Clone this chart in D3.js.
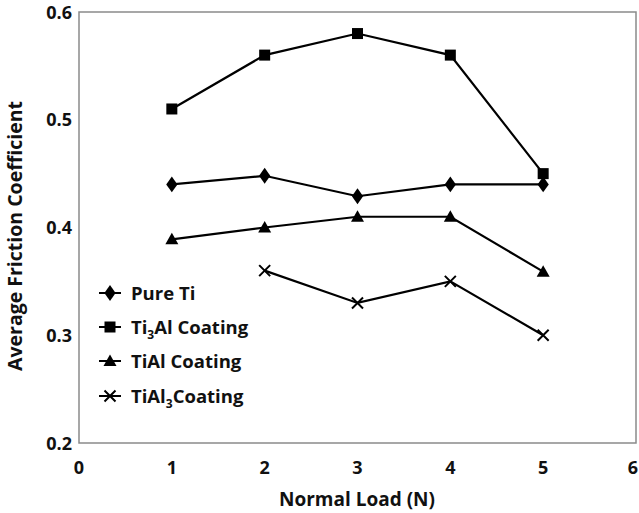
<!DOCTYPE html>
<html lang="en">
<head>
  <meta charset="UTF-8">
  <title>Friction</title>
  <script src="https://cdn.jsdelivr.net/npm/d3@7/dist/d3.min.js"></script>
  <style>
    body{ margin:0; background:#fff; }
    text{ font-family:"Open Sans", "Noto Sans", sans-serif; font-weight:bold; fill:#111; }
  </style>
</head>
<body>
  <svg></svg>
  <script>
  var W = 639, H = 513;
  var loads = [1, 2, 3, 4, 5];
  var pureTi = [0.44, 0.448, 0.429, 0.44, 0.44];
  var ti3al = [0.51, 0.56, 0.58, 0.56, 0.45];
  var tial = [0.389, 0.40, 0.41, 0.41, 0.359];
  var tial3 = [null, 0.36, 0.33, 0.35, 0.30];
  var xTicks = [0, 1, 2, 3, 4, 5, 6];
  var yTicks = [0.2, 0.3, 0.4, 0.5, 0.6];

  var series = [
    {name: "Pure Ti", values: pureTi, shape: "diamond"},
    {name: "Ti3Al Coating", values: ti3al, shape: "square"},
    {name: "TiAl Coating", values: tial, shape: "triangle"},
    {name: "TiAl3Coating", values: tial3, shape: "cross"}
  ];

  var svg = d3.select("svg").attr("width", W).attr("height", H);
  var x = d3.scaleLinear().domain([0, 6]).range([79, 636]);
  var y = d3.scaleLinear().domain([0.2, 0.6]).range([443, 12]);

  // plot box
  svg.append("rect").attr("x", 79).attr("y", 12)
    .attr("width", 636 - 79).attr("height", 443 - 12)
    .attr("fill", "none").attr("stroke", "#8a8a8a").attr("stroke-width", 1.5);

  // last label would run past the edge, so it is right-aligned there
  svg.selectAll("text.xt").data(xTicks).enter().append("text")
    .attr("x", d => d === 6 ? W - 1 : x(d)).attr("y", 474)
    .attr("text-anchor", d => d === 6 ? "end" : "middle")
    .style("font-size", "18px").text(d => d);
  svg.selectAll("text.yt").data(yTicks).enter().append("text")
    .attr("x", 72).attr("y", d => y(d) + 6.5).attr("text-anchor", "end")
    .style("font-size", "18px").text(d => d.toFixed(1));

  svg.append("text").attr("x", 357).attr("y", 506).attr("text-anchor", "middle")
    .style("font-size", "19px").text("Normal Load (N)");
  svg.append("text").attr("transform", "translate(22,236)rotate(-90)")
    .attr("text-anchor", "middle").style("font-size", "19.5px")
    .text("Average Friction Coefficient");

  function marker(g, shape, cx, cy) {
    if (shape === "diamond") {
      g.append("path").attr("d", d3.symbol(d3.symbolDiamond, 90)())
        .attr("transform", "translate(" + cx + "," + cy + ")scale(1.1,0.9)").attr("fill", "#000");
    } else if (shape === "square") {
      g.append("rect").attr("x", cx - 5.5).attr("y", cy - 5.5).attr("width", 11).attr("height", 11).attr("fill", "#000");
    } else if (shape === "triangle") {
      g.append("path").attr("d", "M" + cx + "," + (cy - 6.5) + "L" + (cx + 6.5) + "," + (cy + 5) + "L" + (cx - 6.5) + "," + (cy + 5) + "Z").attr("fill", "#000");
    } else {
      g.append("path").attr("d", "M" + (cx - 5.5) + "," + (cy - 5.5) + "L" + (cx + 5.5) + "," + (cy + 5.5) + "M" + (cx + 5.5) + "," + (cy - 5.5) + "L" + (cx - 5.5) + "," + (cy + 5.5))
        .attr("stroke", "#000").attr("stroke-width", 2).attr("fill", "none");
    }
  }

  var line = d3.line().defined(d => d[1] != null).x(d => x(d[0])).y(d => y(d[1]));
  series.forEach(function(s) {
    var pts = loads.map((l, i) => [l, s.values[i]]);
    var g = svg.append("g");
    g.append("path").attr("d", line(pts)).attr("fill", "none")
      .attr("stroke", "#000").attr("stroke-width", 2.2);
    pts.filter(p => p[1] != null).forEach(p => marker(g, s.shape, x(p[0]), y(p[1])));
  });

  // legend
  var legY = [293, 327, 361, 396];
  series.forEach(function(s, i) {
    var g = svg.append("g");
    g.append("line").attr("x1", 99).attr("x2", 121).attr("y1", legY[i]).attr("y2", legY[i])
      .attr("stroke", "#000").attr("stroke-width", 2);
    marker(g, s.shape, 110, legY[i]);
    var t = g.append("text").attr("x", 131).attr("y", legY[i] + 6.5).style("font-size", "18.5px");
    if (i === 1) {
      t.append("tspan").text("Ti");
      t.append("tspan").attr("dy", 5).style("font-size", "12px").text("3");
      t.append("tspan").attr("dy", -5).text("Al Coating");
    } else if (i === 3) {
      t.append("tspan").text("TiAl");
      t.append("tspan").attr("dy", 5).style("font-size", "12px").text("3");
      t.append("tspan").attr("dy", -5).text("Coating");
    } else {
      t.text(s.name);
    }
  });
  </script>
</body>
</html>
